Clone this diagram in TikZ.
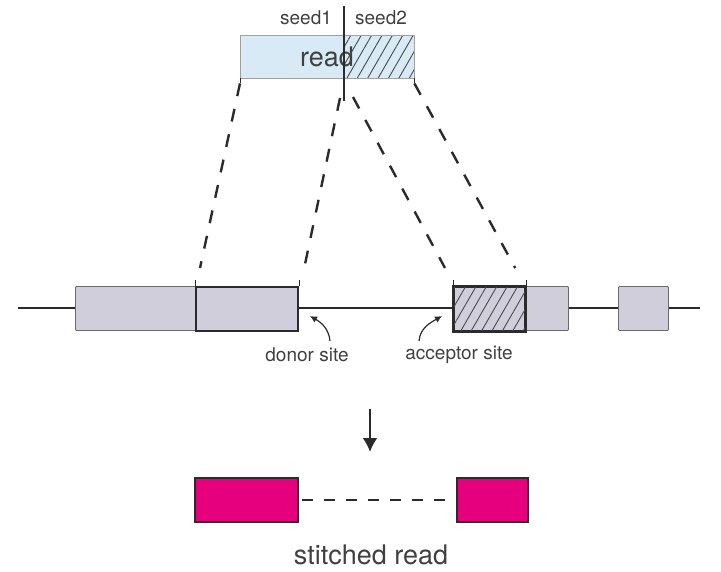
\documentclass[tikz,border=0pt]{standalone}
\usepackage{fontspec}
\setmainfont{TeX Gyre Heros}
\usetikzlibrary{patterns.meta,arrows.meta}
\definecolor{readblue}{HTML}{D7EAF6}
\definecolor{exongray}{HTML}{CFCEDA}
\definecolor{stitch}{HTML}{E6007E}
\definecolor{ink}{HTML}{2B2B2B}
\begin{document}
\begin{tikzpicture}[x=1pt,y=-1pt,
  exon/.style={draw=ink!70,fill=exongray,line width=0.9pt,rounded corners=1pt},
  siteexon/.style={draw=ink,line width=2.2pt},
  hatch/.style={pattern={Lines[angle=60,distance=9pt,line width=0.9pt]},pattern color=ink!85},
  dashline/.style={draw=ink,line width=2.4pt,dash pattern=on 13pt off 13pt},
  lbl/.style={text=ink!90,inner sep=0pt,font=\fontsize{19}{22}\selectfont},
  pinkbox/.style={draw=ink,fill=stitch,line width=1.8pt}]
\useasboundingbox (0,0) rectangle (721,571);

% read with its two seeds
\node[inner sep=0pt,minimum width=103pt,minimum height=43pt,anchor=north west,
      fill=readblue] (seedA) at (240,35) {};
\node[inner sep=0pt,minimum width=71pt,minimum height=43pt,anchor=north west,
      fill=readblue] (seedB) at (343,35) {};
\node[text=ink!90,font=\fontsize{27}{30}\selectfont] (readlbl) at (327,57) {read};
\fill[hatch] (seedB.north west) rectangle (seedB.south east);
\draw[draw=ink!45,line width=0.9pt] (seedA.north west) rectangle (seedB.south east);
\draw[ink,line width=1pt] (seedA.south west) -- ++(0,5);
\draw[ink,line width=1pt] (seedB.south east) -- ++(0,5);
\coordinate (cutTop) at (344,6);
\coordinate (cutBot) at (344,101);
\draw[ink,line width=1.8pt] (cutTop) -- (cutBot);
\node[lbl] (s1) at (306,18) {seed1};
\node[lbl] (s2) at (381,18) {seed2};

% genomic backbone and exons
\coordinate (bbL) at (18,308);
\coordinate (bbR) at (700,308);
\draw[ink,line width=1.5pt] (bbL) -- (bbR);
\node[exon,inner sep=0pt,minimum width=122pt,minimum height=44pt,anchor=north west] (ex1) at (75,286) {};
\node[exon,inner sep=0pt,minimum width=102pt,minimum height=44pt,anchor=north west,siteexon,rounded corners=0pt] (donor) at (195,286) {};
\node[exon,inner sep=0pt,minimum width=44pt,minimum height=44pt,anchor=north west] (ex2) at (524,286) {};
\node[exon,inner sep=0pt,minimum width=71pt,minimum height=44pt,anchor=north west,siteexon,rounded corners=0pt] (acc) at (453,286) {};
\fill[hatch] (acc.north west) rectangle (acc.south east);
\draw[siteexon] (acc.north west) rectangle (acc.south east);
\node[exon,inner sep=0pt,minimum width=50pt,minimum height=44pt,anchor=north west] (ex3) at (618,286) {};
\foreach \n in {donor.north west,donor.north east,acc.north west,acc.north east}
  \draw[ink,line width=1pt] (\n) -- ++(0,-6);

% projections of the seeds onto the genome (canvas yshift points up)
\draw[dashline] ([yshift=-5pt]seedA.south west) -- ([xshift=5pt,yshift=18pt]donor.north west);
\draw[dashline] ([xshift=-4pt,yshift=3pt]cutBot) -- ([xshift=5pt,yshift=18pt]donor.north east);
\draw[dashline] ([xshift=9pt,yshift=4pt]cutBot) -- ([xshift=-8pt,yshift=18pt]acc.north west);
\draw[dashline] ([yshift=-5pt]seedB.south east) -- ([xshift=-11pt,yshift=18pt]acc.north east);

% splice site labels
\node[lbl] (dlbl) at (307,355) {donor site};
\node[lbl] (albl) at (459,355) {acceptor site};
\draw[ink,line width=1.2pt,-{Latex[length=7pt,width=7pt]}] (330,341) to[out=95,in=-30] (310,316);
\draw[ink,line width=1.2pt,-{Latex[length=7pt,width=7pt]}] (419,341) to[out=85,in=210] (442,316);

% stitched result
\coordinate (arrTop) at (370,409);
\coordinate (arrBot) at (370,452);
\draw[ink,line width=2pt,-{Latex[length=14pt,width=15pt]}] (arrTop) -- (arrBot);
\node[pinkbox,inner sep=0pt,minimum width=103pt,minimum height=44pt,anchor=north west] (pA) at (194,477) {};
\node[pinkbox,inner sep=0pt,minimum width=71pt,minimum height=44pt,anchor=north west] (pB) at (456,477) {};
\draw[dashline,line width=2.2pt,dash pattern=on 11pt off 11pt,dash phase=-3pt] (pA.east) -- (pB.west);
\node[text=ink!90,inner sep=0pt,font=\fontsize{27}{30}\selectfont] (stlbl) at (371,555) {stitched read};
\end{tikzpicture}
\end{document}
